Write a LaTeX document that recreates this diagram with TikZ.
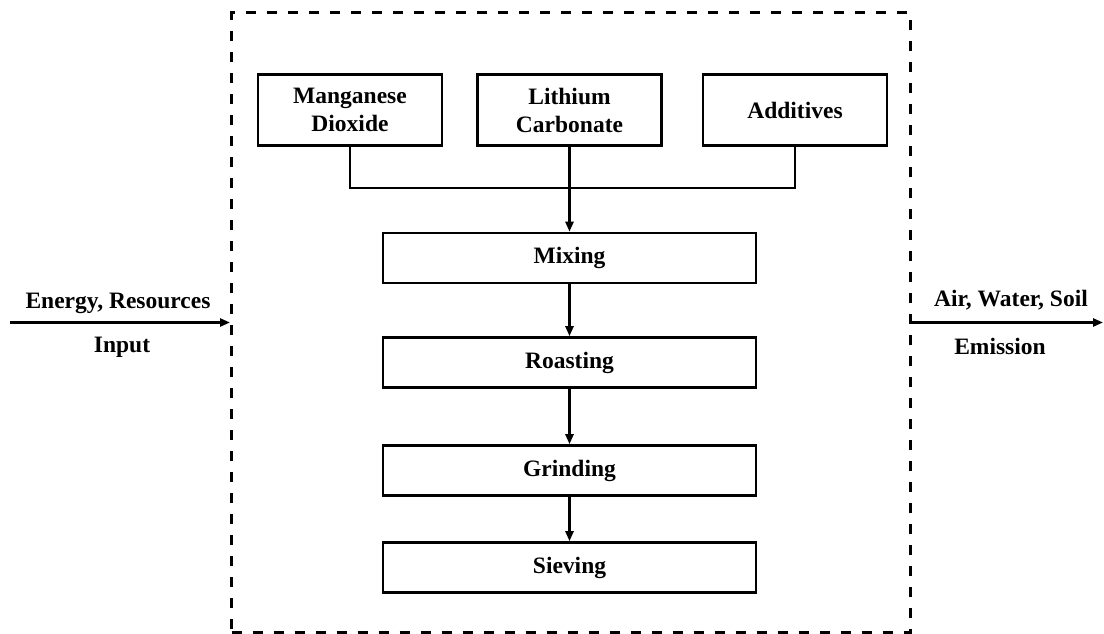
\documentclass[tikz,border=0pt]{standalone}
\usepackage{fontspec}
\setmainfont{Liberation Serif}
\usetikzlibrary{arrows.meta}
\begin{document}
\begin{tikzpicture}[x=1pt,y=-1pt,
  txt/.style={font=\fontsize{23.5}{28}\selectfont\bfseries, align=center, inner sep=0pt},
  srcbox/.style={txt, draw, line width=2.6pt, minimum width=184pt, minimum height=71pt},
  stepbox/.style={txt, draw, line width=2.6pt, minimum width=373pt, minimum height=50pt},
  flow/.style={line width=2.4pt, -{Triangle[length=10pt,width=8pt]}},
  link/.style={line width=2.4pt},
  sysbound/.style={draw, line width=3pt, dash pattern=on 10pt off 11pt, minimum width=679pt, minimum height=619pt, inner sep=0pt}
]
\useasboundingbox (0,0) rectangle (1104,634);

% system boundary
\node[sysbound] (sys) at (571,322.5) {};

% raw materials
\node[srcbox] (man) at (350,110) {Manganese\\Dioxide};
\node[srcbox] (lit) at (569.5,110) {Lithium\\Carbonate};
\node[srcbox] (add) at (795,110) {Additives};

% process steps
\node[stepbox] (mix) at (569.5,258) {Mixing};
\node[stepbox] (roa) at (569.5,362.5) {Roasting};
\node[stepbox] (gri) at (569.5,470.5) {Grinding};
\node[stepbox] (sie) at (569.5,567.5) {Sieving};

% collector line under the raw materials
\coordinate (bus) at (569.5,188);
\draw[link] (man.south) -- (man.south |- bus) -- (add.south |- bus) -- (add.south);
\draw[flow] (lit.south) -- (mix.north);
\draw[flow] (mix.south) -- (roa.north);
\draw[flow] (roa.south) -- (gri.north);
\draw[flow] (gri.south) -- (sie.north);

% inputs and emissions
\coordinate (inL) at (10,322.5);
\coordinate (outR) at (1103,322.5);
\draw[flow] (inL) -- (sys.west);
\draw[flow] (sys.east) -- (outR);
\node[txt] (inTop) at (118,303) {Energy, Resources};
\node[txt] (inBot) at (122,347) {Input};
\node[txt] (outTop) at (1011,300) {Air, Water, Soil};
\node[txt] (outBot) at (1000,346) {Emission};
\end{tikzpicture}
\end{document}
